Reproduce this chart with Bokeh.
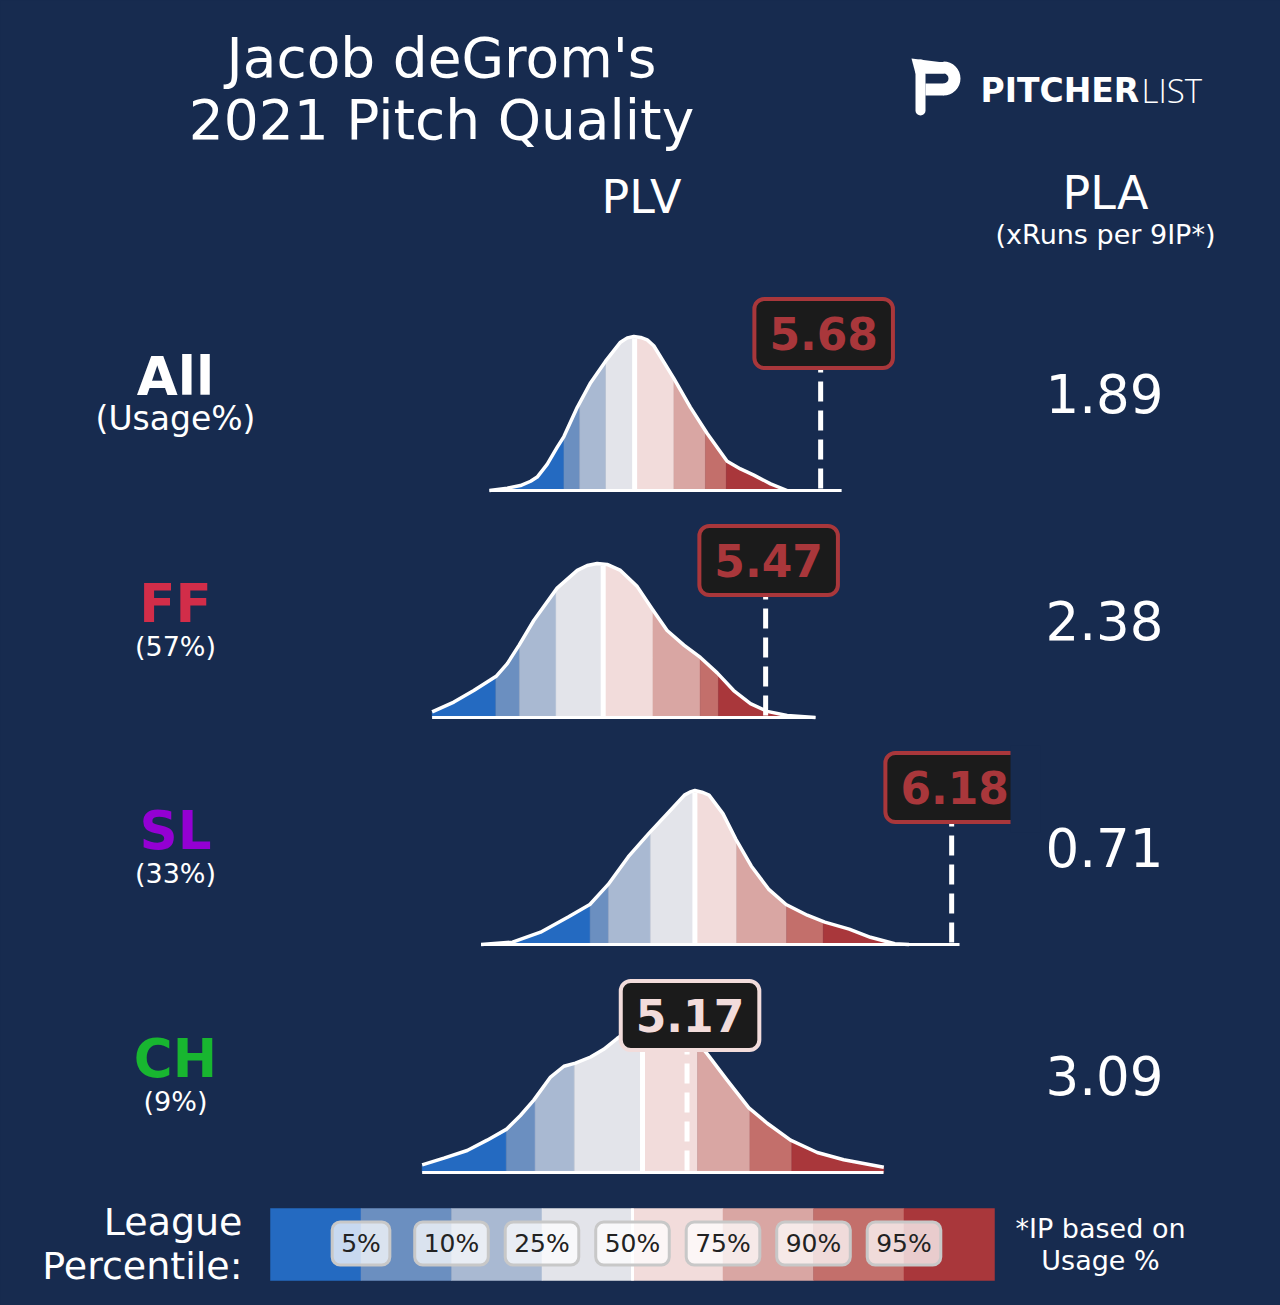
import numpy as np
from bokeh.plotting import figure
from bokeh.models import Range1d, Label, GlobalInlineStyleSheet
from bokeh.core.properties import value
from bokeh.embed import file_html
from bokeh.resources import INLINE

# ---------------- data ----------------
pitch_names = ["All", "FF", "SL", "CH"]
pitch_colors = ["#ffffff", "#d22d49", "#9400d3", "#18b630"]
usage_labels = ["(Usage%)", "(57%)", "(33%)", "(9%)"]
plv_values = [5.68, 5.47, 6.18, 5.17]
pla_values = [1.89, 2.38, 0.71, 3.09]
pct_levels = ["5%", "10%", "25%", "50%", "75%", "90%", "95%"]

# league percentile cut points (PLV) per pitch type
all_pct = [4.70, 4.76, 4.86, 4.97, 5.12, 5.24, 5.32]
ff_pct = [4.44, 4.53, 4.67, 4.85, 5.04, 5.22, 5.29]
sl_pct = [4.80, 4.87, 5.03, 5.20, 5.36, 5.55, 5.69]
ch_pct = [4.48, 4.59, 4.74, 5.00, 5.21, 5.41, 5.57]

# league PLV density curves (normalised to peak = 1)
all_kde_x = [4.416, 4.484, 4.534, 4.573, 4.598, 4.636, 4.674, 4.700, 4.751, 4.802, 4.859, 4.916,
             4.942, 4.967, 4.993, 5.018, 5.043, 5.119, 5.183, 5.247, 5.323, 5.374, 5.425, 5.489,
             5.552]
all_kde_y = [0.0, 0.015, 0.032, 0.06, 0.087, 0.17, 0.28, 0.35, 0.54, 0.70, 0.84, 0.963,
             0.991, 1.0, 0.994, 0.978, 0.94, 0.73, 0.54, 0.37, 0.19, 0.14, 0.10, 0.043,
             0.0]

ff_kde_x = [4.197, 4.280, 4.356, 4.443, 4.484, 4.529, 4.585, 4.674, 4.751, 4.789, 4.827, 4.865,
            4.916, 4.980, 5.039, 5.094, 5.158, 5.221, 5.285, 5.348, 5.412, 5.476, 5.552, 5.660]
ff_kde_y = [0.037, 0.10, 0.175, 0.27, 0.35, 0.47, 0.63, 0.84, 0.955, 0.987, 1.0, 0.994,
            0.955, 0.85, 0.70, 0.565, 0.47, 0.39, 0.29, 0.175, 0.09, 0.04, 0.013, 0.0]

sl_kde_x = [4.384, 4.504, 4.611, 4.718, 4.799, 4.869, 4.946, 5.026, 5.106, 5.160, 5.180, 5.200,
            5.227, 5.254, 5.307, 5.356, 5.415, 5.481, 5.548, 5.629, 5.696, 5.789, 5.870, 5.963,
            6.017]
sl_kde_y = [0.0, 0.015, 0.08, 0.18, 0.26, 0.39, 0.57, 0.725, 0.87, 0.97, 0.989, 1.0,
            0.989, 0.97, 0.85, 0.685, 0.51, 0.36, 0.26, 0.19, 0.145, 0.10, 0.047, 0.005,
            0.0]

ch_kde_x = [4.159, 4.242, 4.331, 4.407, 4.480, 4.534, 4.585, 4.649, 4.700, 4.744, 4.802, 4.852,
            4.903, 4.954, 5.010, 5.050, 5.088, 5.145, 5.183, 5.247, 5.323, 5.406, 5.476, 5.565,
            5.667, 5.768, 5.921]
ch_kde_y = [0.05, 0.093, 0.143, 0.21, 0.28, 0.37, 0.47, 0.62, 0.69, 0.71, 0.75, 0.80,
            0.87, 0.93, 0.98, 1.0, 0.99, 0.95, 0.90, 0.77, 0.60, 0.42, 0.32, 0.21,
            0.13, 0.083, 0.034]

axis_end = [5.76, 5.66, 6.21, 5.92]

band_colors = ["#246ac1", "#6b8fc0", "#a9b9d2", "#e3e4ea",
               "#f2dcdb", "#d9a6a3", "#c36f6b", "#a9373b"]

kde_x = [all_kde_x, ff_kde_x, sl_kde_x, ch_kde_x]
kde_y = [all_kde_y, ff_kde_y, sl_kde_y, ch_kde_y]
pcts = [all_pct, ff_pct, sl_pct, ch_pct]

# ---------------- layout ----------------
BG = "#172b4f"
FONT_NAME = "DejaVu Sans"
FONT = value(FONT_NAME)
W, H = 1280, 1305
PX0, PXU = 642.0, 262.0          # page x of PLV 5.0, px per PLV unit


def vx(px):
    return 5.0 + (px - PX0) / PXU


BASE = [490, 717, 944, 1172]
PEAK = 154

p = figure(width=W, height=H, output_backend="svg", toolbar_location=None,
           x_range=Range1d(vx(0), vx(W)), y_range=Range1d(H, 0),
           x_axis_location=None, y_axis_location=None, min_border=0,
           background_fill_color=BG, border_fill_color=BG, outline_line_color=None)
p.grid.visible = False
p.stylesheets = [GlobalInlineStyleSheet(css="html, body { background: #172b4f; }")]


def txt(x, y, t, size, color="white", align="center", style="normal", font=FONT):
    # y is the intended baseline in page pixels
    p.text(x=[vx(x)], y=[y - 0.35 * size], text=[t], text_font=font, text_font_size=f"{size}px",
           text_color=color, text_align=align, text_baseline="alphabetic",
           text_font_style=style)


# titles
txt(441, 77, "Jacob deGrom's", 55)
txt(441, 139, "2021 Pitch Quality", 55)
txt(641, 213, "PLV", 46)
txt(1105, 209, "PLA", 46)
txt(1105, 243, "(xRuns per 9IP*)", 27)

# logo
p.patch(x=[vx(911), vx(943), vx(943), vx(915)], y=[58, 62, 73, 73],
        fill_color="white", line_color=None)
p.annular_wedge(x=[vx(943)], y=[78], inner_radius=5, outer_radius=17,
                inner_radius_units="screen", outer_radius_units="screen",
                start_angle=-np.pi / 2, end_angle=np.pi / 2,
                fill_color="white", line_color=None)
p.quad(left=[vx(925)], right=[vx(943.5)], top=[61.5], bottom=[73], fill_color="white", line_color=None)
p.quad(left=[vx(925)], right=[vx(943.5)], top=[83], bottom=[95], fill_color="white", line_color=None)
p.segment(x0=[vx(920)], y0=[64], x1=[vx(920)], y1=[110], line_color="white",
          line_width=10, line_cap="round")
txt(980, 102, "PITCHER", 33, style="bold", align="left")
txt(1141, 102, "LIST", 33, align="left",
    font=value("Open Sans Light, Lato Light, DejaVu Sans ExtraLight, DejaVu Sans"))

for i in range(4):
    b = BASE[i]
    kx = np.array(kde_x[i], dtype=float)
    ky = np.array(kde_y[i], dtype=float)
    pc = pcts[i]
    edges = [kx[0]] + list(pc) + [kx[-1]]
    xs_all, ys_all = [], []
    for k in range(8):
        a, c = edges[k], edges[k + 1]
        inside = (kx > a) & (kx < c)
        xs = [a] + list(kx[inside]) + [c]
        ys = [np.interp(a, kx, ky)] + list(ky[inside]) + [np.interp(c, kx, ky)]
        xs_all.append(xs + [c, a])
        ys_all.append([b - v * PEAK for v in ys] + [b, b])
    p.patches(xs_all, ys_all, fill_color=band_colors, line_color=band_colors, line_width=0.5)
    # median line
    med = pc[3]
    p.segment(x0=[med], y0=[b], x1=[med], y1=[b - np.interp(med, kx, ky) * PEAK + 2],
              line_color="white", line_width=5)
    # outline and baseline
    p.line(kx, b - ky * PEAK, line_color="white", line_width=3.5, line_join="round")
    p.line([kx[0], axis_end[i]], [b, b], line_color="white", line_width=3)
    # pitcher marker
    val = plv_values[i]
    p.segment(x0=[val], y0=[b - 122], x1=[val], y1=[b], line_color="white",
              line_width=5, line_dash="20 9", line_dash_offset=16)
    band = int(np.searchsorted(pc, val))
    col = band_colors[band]
    p.add_layout(Label(x=val, y=b - 157, x_offset=3, text=f"{val:.2f}", anchor="center",
                       text_font=FONT_NAME, text_font_size="44px", text_font_style="bold",
                       text_color=col, background_fill_color="#1b1b1b",
                       border_line_color=col, border_line_width=4, border_radius=10,
                       padding=dict(left=15, right=15, top=18, bottom=18)))
    # left labels
    txt(175, b - 95, pitch_names[i], 53, color=pitch_colors[i], style="bold")
    txt(175, b - 60 if i == 0 else b - 62, usage_labels[i], 33 if i == 0 else 27)
    # PLA value
    txt(1104, b - 78, f"{pla_values[i]:.2f}", 53)

# clip the overflowing label like the reference panel edge
p.quad(left=[vx(1010)], right=[vx(1040)], top=[745], bottom=[832], fill_color=BG,
       line_color=None, level="overlay")

# legend colour bar
L0, L1 = 270, 994
step = (L1 - L0) / 8
p.quad(left=[vx(L0 + k * step) for k in range(8)], right=[vx(L0 + (k + 1) * step) for k in range(8)],
       top=[1208] * 8, bottom=[1280] * 8, fill_color=band_colors, line_color=band_colors,
       line_width=0.5)
p.segment(x0=[vx(L0 + 4 * step)], y0=[1208], x1=[vx(L0 + 4 * step)], y1=[1280],
          line_color="white", line_width=3)
for k, lab in enumerate(pct_levels):
    p.add_layout(Label(x=vx(L0 + (k + 1) * step), y=1243, text=lab, anchor="center",
                       text_font=FONT_NAME, text_font_size="25px", text_color="#222222",
                       background_fill_color="white", background_fill_alpha=0.75,
                       border_line_color="#c8c8c8", border_line_width=3, border_radius=8,
                       padding=dict(left=9, right=9, top=7, bottom=7)))

txt(242, 1235, "League", 38, align="right")
txt(242, 1279, "Percentile:", 38, align="right")
txt(1100, 1237, "*IP based on", 27)
txt(1100, 1269, "Usage %", 27)

open("out.html", "w").write(file_html(p, INLINE))
